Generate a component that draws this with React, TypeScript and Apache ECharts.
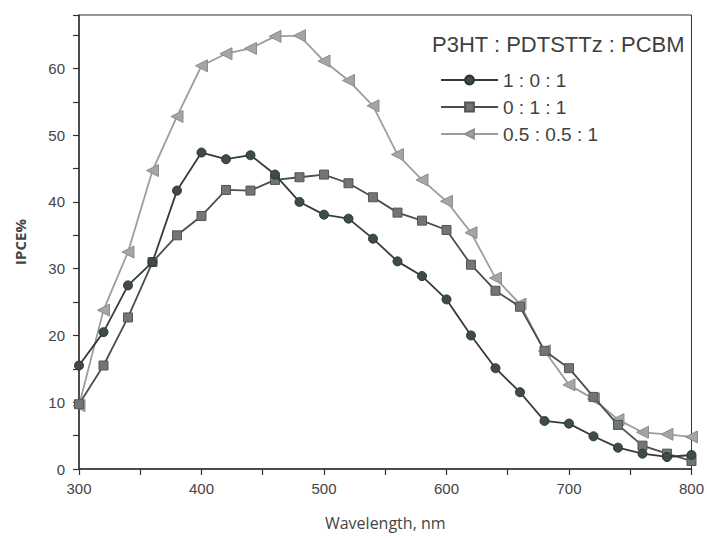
import React, { useEffect, useRef } from "react";
import * as echarts from "echarts";

const wavelengths = [300, 320, 340, 360, 380, 400, 420, 440, 460, 480, 500, 520, 540, 560, 580, 600, 620, 640, 660, 680, 700, 720, 740, 760, 780, 800];
const seriesA = [15.5, 20.5, 27.5, 31.0, 41.7, 47.4, 46.4, 47.0, 44.1, 40.0, 38.1, 37.5, 34.5, 31.1, 28.9, 25.4, 20.0, 15.1, 11.5, 7.2, 6.8, 4.9, 3.2, 2.3, 1.8, 2.1];
const seriesB = [9.7, 15.5, 22.7, 31.0, 35.0, 37.9, 41.8, 41.7, 43.3, 43.7, 44.1, 42.8, 40.7, 38.4, 37.2, 35.8, 30.6, 26.7, 24.3, 17.7, 15.1, 10.8, 6.6, 3.5, 2.3, 1.2];
const seriesC = [9.5, 23.8, 32.5, 44.7, 52.8, 60.4, 62.2, 63.0, 64.8, 64.9, 61.1, 58.2, 54.4, 47.1, 43.3, 40.1, 35.4, 28.6, 24.7, 17.7, 12.6, 10.5, 7.4, 5.5, 5.2, 4.8];
const seriesNames = ["1 : 0 : 1", "0 : 1 : 1", "0.5 : 0.5 : 1"];
const legendTitle = "P3HT : PDTSTTz : PCBM";

export default function App() {
  const ref = useRef<HTMLDivElement>(null);
  useEffect(() => {
    if (!ref.current) return;
    const chart = echarts.init(ref.current, undefined, { renderer: "svg" });
    const pair = (ys: number[]) => wavelengths.map((x, i) => [x, ys[i]]);
    chart.setOption({
      animation: false,
      backgroundColor: "#ffffff",
      title: {
        text: legendTitle,
        right: 17,
        top: 28,
        textStyle: { fontFamily: "Liberation Sans", fontSize: 22, fontWeight: "normal", color: "#3f3f3f" },
      },
      legend: {
        orient: "vertical",
        left: 435,
        top: 65,
        itemWidth: 57,
        itemHeight: 11,
        itemGap: 7,
        data: seriesNames,
        textStyle: { fontFamily: "Liberation Sans", fontSize: 19, color: "#3f3f3f", lineHeight: 20 },
      },
      grid: {
        left: 79,
        right: 15,
        top: 15,
        bottom: 71,
        show: true,
        borderColor: "#333",
        borderWidth: 1,
        backgroundColor: "transparent",
      },
      xAxis: {
        type: "value",
        min: 300,
        max: 800,
        interval: 50,
        name: "Wavelength, nm",
        nameLocation: "middle",
        nameGap: 46,
        nameTextStyle: { fontFamily: "Open Sans", fontSize: 16, color: "#444" },
        axisLine: { show: true, lineStyle: { color: "#333", width: 1.5 } },
        axisTick: { show: true, length: 6, lineStyle: { color: "#333", width: 1.2 } },
        axisLabel: {
          margin: 12,
          fontFamily: "Liberation Sans",
          fontSize: 15,
          color: "#444",
          formatter: (v: number) => (v % 100 === 0 ? String(v) : ""),
        },
        splitLine: { show: false },
      },
      yAxis: {
        type: "value",
        min: 0,
        max: 68,
        interval: 5,
        name: "IPCE%",
        nameLocation: "middle",
        nameGap: 52,
        nameRotate: 90,
        nameTextStyle: { fontFamily: "Open Sans", fontSize: 15, fontWeight: "bold", color: "#444" },
        axisLine: { show: true, lineStyle: { color: "#333", width: 1.5 } },
        axisTick: { show: true, length: 6, lineStyle: { color: "#333", width: 1.2 } },
        axisLabel: {
          margin: 14,
          fontFamily: "Liberation Sans",
          fontSize: 15,
          color: "#444",
          formatter: (v: number) => (v % 10 === 0 ? String(v) : ""),
        },
        splitLine: { show: false },
      },
      series: [
        {
          name: seriesNames[0],
          type: "line",
          data: pair(seriesA),
          symbol: "circle",
          symbolSize: 9,
          lineStyle: { color: "#363a3a", width: 1.8 },
          itemStyle: { color: "#3e4b4c", borderColor: "#2c3333", borderWidth: 1 },
          z: 4,
        },
        {
          name: seriesNames[1],
          type: "line",
          data: pair(seriesB),
          symbol: "rect",
          symbolSize: 9,
          lineStyle: { color: "#4b4e4e", width: 1.8 },
          itemStyle: { color: "#707676", borderColor: "#555", borderWidth: 1 },
          z: 3,
        },
        {
          name: seriesNames[2],
          type: "line",
          data: pair(seriesC),
          symbol: "triangle",
          symbolRotate: 90,
          symbolSize: 12,
          lineStyle: { color: "#9c9e9e", width: 1.8 },
          itemStyle: { color: "#a3a6a6", borderColor: "#8a8d8d", borderWidth: 1 },
          z: 2,
        },
      ],
    });
    return () => chart.dispose();
  }, []);
  return <div ref={ref} style={{ position: "fixed", left: 0, top: 0, width: 707, height: 540 }} />;
}
